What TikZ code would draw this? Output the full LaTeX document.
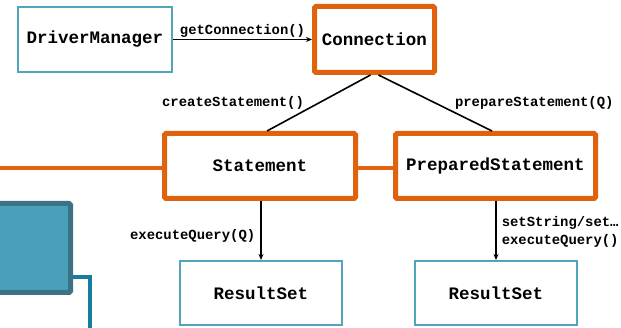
\documentclass[tikz,border=0pt]{standalone}
\usepackage{fontspec}
\setmonofont{Liberation Mono}
\usetikzlibrary{arrows.meta,backgrounds}
\definecolor{jorange}{RGB}{224,98,12}
\definecolor{jteal}{RGB}{80,165,188}
\definecolor{jfill}{RGB}{75,160,185}
\definecolor{jdark}{RGB}{60,114,133}
\definecolor{jline}{RGB}{22,125,160}
\tikzset{
  plainbox/.style={draw=jteal, line width=2pt, fill=white, rectangle, inner sep=0pt,
    font=\fontsize{17.5}{20}\selectfont\ttfamily\bfseries},
  hotbox/.style={draw=jorange, line width=5pt, fill=white, rectangle, rounded corners=1.5pt, inner sep=0pt,
    font=\fontsize{17.5}{20}\selectfont\ttfamily\bfseries},
  lbl/.style={font=\fontsize{13.9}{17.5}\selectfont\ttfamily\bfseries, inner sep=0pt},
  conn/.style={line width=1.6pt, draw=black},
  arr/.style={conn, -{Stealth[length=6pt,width=5pt]}},
  hotline/.style={draw=jorange, line width=4pt},
}
\begin{document}
\begin{tikzpicture}[x=1pt,y=-1pt]
\useasboundingbox (0,0) rectangle (621,328);
% blue box at left
\node[draw=jdark, fill=jfill, line width=5pt, rounded corners=1.5pt, minimum width=81pt, minimum height=89pt, inner sep=0pt] (blue) at (30,248) {};
\coordinate (bl1) at (90,277);
\coordinate (bl2) at (90,330);
\begin{scope}[on background layer]
\draw[draw=jline, line width=4pt] (blue.east |- bl1) -- (bl1) -- (bl2);
\end{scope}

\node[plainbox, minimum width=154pt, minimum height=65pt] (dm) at (95,39.5) {DriverManager};
\node[hotbox, minimum width=120pt, minimum height=66pt] (conn) at (374.5,39.5) {Connection};
\node[hotbox, minimum width=191pt, minimum height=65pt] (st) at (260,166) {Statement};
\node[hotbox, minimum width=200pt, minimum height=65pt] (ps) at (495.5,166) {PreparedStatement};
\node[plainbox, minimum width=162pt, minimum height=64pt] (rs1) at (261,293) {ResultSet};
\node[plainbox, minimum width=162pt, minimum height=64pt] (rs2) at (496,293) {ResultSet};

% orange links
\coordinate (ol) at (-2,168.5);
\begin{scope}[on background layer]
\draw[hotline] (ol) -- (ol -| st.center);
\draw[hotline] (st.center |- ol) -- (ps.center |- ol);
\end{scope}

\draw[arr] (dm.east) -- node[lbl, above=1.5pt] {getConnection()} (conn.west);
\draw[conn] ([xshift=-4pt]conn.south) -- node[lbl, anchor=east, xshift=-14pt] {createStatement()} ([xshift=7pt]st.north);
\draw[conn] ([xshift=4pt]conn.south) -- node[lbl, anchor=west, xshift=19pt] {prepareStatement(Q)} ([xshift=-3.5pt]ps.north);
\draw[arr] (rs1.north |- st.south) -- node[lbl, pos=0.6, anchor=east, xshift=-5pt] {executeQuery(Q)} (rs1.north);
\draw[arr] (rs2.north |- ps.south) -- node[lbl, pos=0.52, anchor=west, xshift=5pt, align=left] {setString/set…\\executeQuery()} (rs2.north);
\end{tikzpicture}
\end{document}
